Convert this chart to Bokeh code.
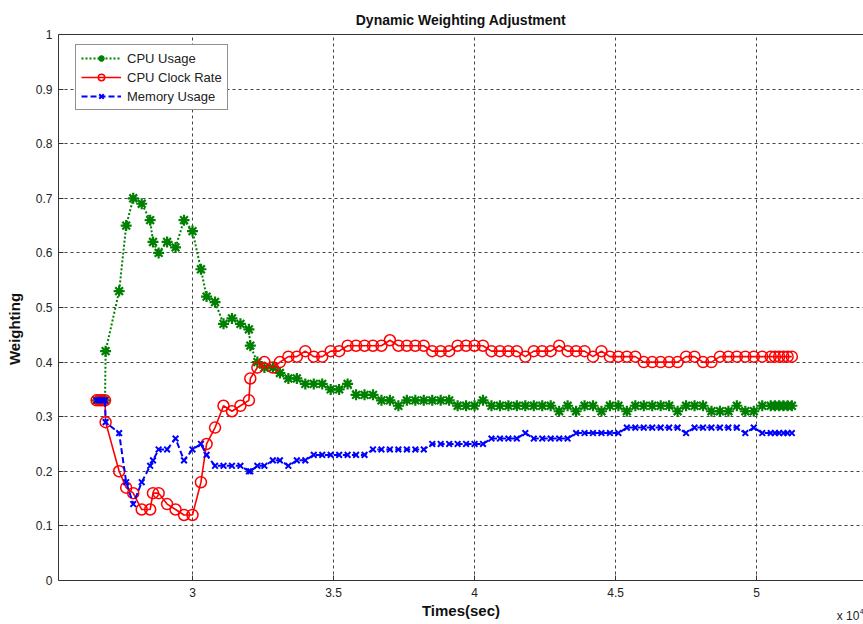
from bokeh.plotting import figure
from bokeh.models import Range1d, FixedTicker, Legend, LegendItem, Label, Span, Grid
from bokeh.embed import file_html
from bokeh.resources import INLINE

# time in units of 10^4 seconds
time_x = [2.66, 2.67, 2.68, 2.69, 2.692, 2.74, 2.765, 2.79, 2.82, 2.85, 2.86, 2.88, 2.91, 2.94, 2.97,
          3.00, 3.03, 3.05, 3.08, 3.11, 3.14, 3.17, 3.20, 3.205, 3.23, 3.255, 3.285, 3.31, 3.34, 3.37,
          3.40, 3.43, 3.46, 3.49, 3.52, 3.55, 3.58, 3.61, 3.64, 3.67, 3.70, 3.73, 3.76, 3.79,
          3.82, 3.85, 3.88, 3.91, 3.94, 3.97, 4.00, 4.03, 4.06, 4.09, 4.12, 4.15, 4.18, 4.21,
          4.24, 4.27, 4.30, 4.33, 4.36, 4.39, 4.42, 4.45, 4.48, 4.51, 4.54, 4.57, 4.60, 4.63,
          4.66, 4.69, 4.72, 4.75, 4.78, 4.81, 4.84, 4.87, 4.90, 4.93, 4.96, 4.99, 5.02, 5.05,
          5.065, 5.08, 5.095, 5.11, 5.125]

cpu_usage = [0.33, 0.33, 0.33, 0.33, 0.42, 0.53, 0.65, 0.70, 0.69, 0.66, 0.62, 0.60, 0.62, 0.61, 0.66,
             0.64, 0.57, 0.52, 0.51, 0.47, 0.48, 0.47, 0.46, 0.43, 0.40, 0.39, 0.39, 0.38, 0.37, 0.37,
             0.36, 0.36, 0.36, 0.35, 0.35, 0.36, 0.34, 0.34, 0.34, 0.33, 0.33, 0.32, 0.33, 0.33,
             0.33, 0.33, 0.33, 0.33, 0.32, 0.32, 0.32, 0.33, 0.32, 0.32, 0.32, 0.32, 0.32, 0.32,
             0.32, 0.32, 0.31, 0.32, 0.31, 0.32, 0.32, 0.31, 0.32, 0.32, 0.31, 0.32, 0.32, 0.32,
             0.32, 0.32, 0.31, 0.32, 0.32, 0.32, 0.31, 0.31, 0.31, 0.32, 0.31, 0.31, 0.32, 0.32,
             0.32, 0.32, 0.32, 0.32, 0.32]

cpu_clock = [0.33, 0.33, 0.33, 0.33, 0.29, 0.20, 0.17, 0.16, 0.13, 0.13, 0.16, 0.16, 0.14, 0.13, 0.12,
             0.12, 0.18, 0.25, 0.28, 0.32, 0.31, 0.32, 0.33, 0.37, 0.39, 0.40, 0.39, 0.40, 0.41, 0.41,
             0.42, 0.41, 0.41, 0.42, 0.42, 0.43, 0.43, 0.43, 0.43, 0.43, 0.44, 0.43, 0.43, 0.43,
             0.43, 0.42, 0.42, 0.42, 0.43, 0.43, 0.43, 0.43, 0.42, 0.42, 0.42, 0.42, 0.41, 0.42,
             0.42, 0.42, 0.43, 0.42, 0.42, 0.42, 0.41, 0.42, 0.41, 0.41, 0.41, 0.41, 0.40, 0.40,
             0.40, 0.40, 0.40, 0.41, 0.41, 0.40, 0.40, 0.41, 0.41, 0.41, 0.41, 0.41, 0.41, 0.41,
             0.41, 0.41, 0.41, 0.41, 0.41]

memory_usage = [0.33, 0.33, 0.33, 0.33, 0.29, 0.27, 0.18, 0.14, 0.18, 0.21, 0.22, 0.24, 0.24, 0.26, 0.22,
                0.24, 0.25, 0.23, 0.21, 0.21, 0.21, 0.21, 0.20, 0.20, 0.21, 0.21, 0.22, 0.22, 0.21, 0.22,
                0.22, 0.23, 0.23, 0.23, 0.23, 0.23, 0.23, 0.23, 0.24, 0.24, 0.24, 0.24, 0.24, 0.24,
                0.24, 0.25, 0.25, 0.25, 0.25, 0.25, 0.25, 0.25, 0.26, 0.26, 0.26, 0.26, 0.27, 0.26,
                0.26, 0.26, 0.26, 0.26, 0.27, 0.27, 0.27, 0.27, 0.27, 0.27, 0.28, 0.28, 0.28, 0.28,
                0.28, 0.28, 0.28, 0.27, 0.28, 0.28, 0.28, 0.28, 0.28, 0.28, 0.27, 0.28, 0.27, 0.27,
                0.27, 0.27, 0.27, 0.27, 0.27]

x_ticks = [3, 3.5, 4, 4.5, 5]
x_tick_labels = ["3", "3.5", "4", "4.5", "5"]
y_ticks = [0, 0.1, 0.2, 0.3, 0.4, 0.5, 0.6, 0.7, 0.8, 0.9, 1]
y_tick_labels = ["0", "0.1", "0.2", "0.3", "0.4", "0.5", "0.6", "0.7", "0.8", "0.9", "1"]

series_names = ["CPU Usage", "CPU Clock Rate", "Memory Usage"]

FONT = "Liberation Sans"
TXT = "#222222"
AX = "#333333"

# frame runs to the bottom of the canvas so the exponent note can sit below the x axis
p = figure(width=863, height=624, output_backend="svg", toolbar_location=None,
           x_range=Range1d(2.525, 5.379), y_range=Range1d(-0.0806, 1.0018),
           min_border_left=58, min_border_right=0, min_border_top=33, min_border_bottom=0,
           background_fill_color="white", border_fill_color="white")
p.outline_line_color = None

p.title.text = "Dynamic Weighting Adjustment"
p.title.align = "center"
p.title.text_font = FONT
p.title.text_font_size = "14px"
p.title.text_font_style = "bold"
p.title.text_color = "#111111"
p.title.standoff = 12

for ax in [p.xaxis[0], p.yaxis[0]]:
    ax.axis_line_color = AX
    ax.major_tick_line_color = AX
    ax.major_tick_in = 5
    ax.major_tick_out = 0
    ax.minor_tick_line_color = None
    ax.major_label_text_font = FONT
    ax.major_label_text_font_size = "12px"
    ax.major_label_text_color = TXT
    ax.axis_label_text_font = FONT
    ax.axis_label_text_font_size = "15px"
    ax.axis_label_text_font_style = "bold"
    ax.axis_label_text_color = "#111111"

xa = p.xaxis[0]
xa.fixed_location = y_ticks[0]
xa.ticker = FixedTicker(ticks=x_ticks)
xa.major_label_overrides = {t: l for t, l in zip(x_ticks, x_tick_labels)}
xa.axis_label = "Times(sec)"
xa.major_label_standoff = 8
xa.axis_label_standoff = 1

ya = p.yaxis[0]
ya.bounds = (y_ticks[0], y_ticks[-1])
ya.ticker = FixedTicker(ticks=y_ticks)
ya.major_label_overrides = {t: l for t, l in zip(y_ticks, y_tick_labels)}
ya.axis_label = "Weighting"
ya.major_label_standoff = 6
ya.axis_label_standoff = 10

# top border of the axes box
p.add_layout(Span(location=y_ticks[-1], dimension="width", line_color=AX, line_width=1))

# grid
for g in [p.xgrid[0], p.ygrid[0]]:
    g.grid_line_color = "#444444"
    g.grid_line_dash = "3 3"
    g.grid_line_width = 1
    g.grid_line_alpha = 1.0
p.xgrid[0].ticker = FixedTicker(ticks=x_ticks)
p.ygrid[0].ticker = FixedTicker(ticks=y_ticks[1:-1])
if "cross_bounds" in Grid.properties():
    p.xgrid[0].cross_bounds = (y_ticks[0], y_ticks[-1])
else:
    p.xgrid[0].visible = False
    n = len(x_ticks)
    p.segment(x0=x_ticks, y0=[y_ticks[0]] * n, x1=x_ticks, y1=[y_ticks[-1]] * n,
              line_color="#444444", line_dash="3 3", line_width=1)

# series
g_line = p.line(time_x, cpu_usage, line_color="#008000", line_width=2, line_dash="2 2")
g_mark = p.scatter(time_x, cpu_usage, marker="asterisk", size=11, line_color="#008000", line_width=2.2)

r_line = p.line(time_x, cpu_clock, line_color="#FF0000", line_width=1.6)
r_mark = p.scatter(time_x, cpu_clock, marker="circle", size=11, fill_color=None,
                   line_color="#FF0000", line_width=1.5)

b_line = p.line(time_x, memory_usage, line_color="#0000FF", line_width=2, line_dash="6 3")
b_mark = p.scatter(time_x, memory_usage, marker="x", size=8, line_color="#0000FF", line_width=2)

legend = Legend(items=[LegendItem(label=series_names[0], renderers=[g_line, g_mark]),
                       LegendItem(label=series_names[1], renderers=[r_line, r_mark]),
                       LegendItem(label=series_names[2], renderers=[b_line, b_mark])],
                location=(17, 514), margin=0, padding=5, spacing=3,
                glyph_width=40, glyph_height=16, label_standoff=6,
                label_text_font=FONT, label_text_font_size="13px", label_text_color=TXT,
                border_line_color="#222222", border_line_width=1, background_fill_alpha=1.0)
p.add_layout(legend, "center")

# x 10^4 exponent note
p.add_layout(Label(x=5.284, y=-0.0659, text="x 10", text_font=FONT, text_font_size="12px",
                   text_color=TXT, text_baseline="middle", text_align="left"))
p.add_layout(Label(x=5.366, y=-0.056, text="4", text_font=FONT, text_font_size="7px",
                   text_color=TXT, text_baseline="middle", text_align="left"))

open("out.html", "w").write(file_html(p, INLINE))
